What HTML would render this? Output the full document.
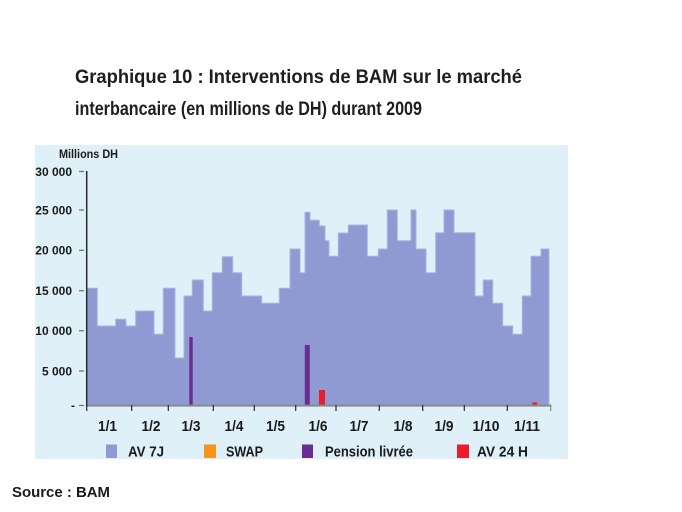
<!DOCTYPE html>
<html>
<head>
<meta charset="utf-8">
<style>
html,body{margin:0;padding:0;background:#fff;}
svg{display:block;}
text{font-family:"Liberation Sans",sans-serif;}
</style>
</head>
<body>
<svg width="682" height="512" viewBox="0 0 682 512" xmlns="http://www.w3.org/2000/svg">
<rect x="0" y="0" width="682" height="512" fill="#ffffff"/>

<!-- Title -->
<text x="75" y="83" font-size="19.5" font-weight="bold" fill="#1e1e1e" textLength="447" lengthAdjust="spacingAndGlyphs">Graphique 10 : Interventions de BAM sur le marché</text>
<text x="75" y="115" font-size="19.5" font-weight="bold" fill="#1e1e1e" textLength="347" lengthAdjust="spacingAndGlyphs">interbancaire (en millions de DH) durant 2009</text>

<!-- Panel -->
<rect x="35" y="145" width="533" height="314" fill="#dff0f8"/>

<!-- Millions DH -->
<text x="59" y="158" font-size="11.5" font-weight="bold" fill="#1a1a1a" textLength="59" lengthAdjust="spacingAndGlyphs">Millions DH</text>

<!-- Y labels -->
<g font-size="12" font-weight="bold" fill="#1a1a1a" text-anchor="end">
<text x="72" y="176">30 000</text>
<text x="72" y="214.5">25 000</text>
<text x="72" y="254.5">20 000</text>
<text x="72" y="295">15 000</text>
<text x="72" y="335">10 000</text>
<text x="72" y="375.5">5 000</text>
<text x="75" y="409.5">-</text>
</g>
<!-- Y tick dashes -->
<g stroke="#777" stroke-width="1.3">
<line x1="79" y1="171.5" x2="84" y2="171.5"/>
<line x1="79" y1="210" x2="84" y2="210"/>
<line x1="79" y1="250.3" x2="84" y2="250.3"/>
<line x1="79" y1="290.7" x2="84" y2="290.7"/>
<line x1="79" y1="330.7" x2="84" y2="330.7"/>
<line x1="79" y1="371" x2="84" y2="371"/>
<line x1="79" y1="405.5" x2="84" y2="405.5"/>
</g>

<!-- AV 7J step area -->
<path fill="#8f9ad3" stroke="#a9b3e0" stroke-width="1" d="M86.7,405.5 V288.3 H97.3 V326 H115.7 V319.3 H126 V326 H135.7 V311 H154 V334.3 H163.3 V288.3 H175 V358 H184 V296 H192.3 V280 H203.3 V311 H212.3 V272.7 H222.3 V256.7 H232.7 V272.7 H241.7 V296 H261.7 V303.3 H279.3 V288.3 H290 V249 H300 V272.7 H305 V212.3 H310 V220.3 H319.3 V226 H325 V240.7 H329 V256.3 H338.3 V233 H348.3 V225 H367.3 V256.3 H378.3 V249 H387.3 V210 H397.3 V240.7 H411 V210 H416 V249 H426 V272.7 H435.7 V232.7 H444 V210 H454 V232.7 H475 V296 H483.3 V280 H492.7 V303.3 H502.7 V326 H512.7 V334.3 H522.3 V296 H531 V256.3 H541 V249 H549 V405.5 Z"/>

<!-- Pension livrée bars -->
<rect x="189.3" y="337" width="3.4" height="68.5" fill="#6a2c91"/>
<rect x="304.8" y="345" width="5" height="60.5" fill="#6a2c91"/>
<!-- AV 24H bars -->
<rect x="319" y="390" width="6" height="15.5" fill="#ec1c2a"/>
<rect x="532.3" y="402.5" width="5" height="3" fill="#ec1c2a"/>

<!-- Axes -->
<line x1="86.7" y1="405.6" x2="551.5" y2="405.6" stroke="#8a8a8a" stroke-width="2"/>
<line x1="86.7" y1="171" x2="86.7" y2="406.5" stroke="#2a2a2a" stroke-width="1.5"/>
<g stroke="#2a2a2a" stroke-width="1.2">
<line x1="86.7" y1="405" x2="86.7" y2="411"/>
<line x1="131.7" y1="405" x2="131.7" y2="411"/>
<line x1="168.3" y1="405" x2="168.3" y2="411"/>
<line x1="213.3" y1="405" x2="213.3" y2="411"/>
<line x1="254.3" y1="405" x2="254.3" y2="411"/>
<line x1="295.7" y1="405" x2="295.7" y2="411"/>
<line x1="336" y1="405" x2="336" y2="411"/>
<line x1="379.3" y1="405" x2="379.3" y2="411"/>
<line x1="422.7" y1="405" x2="422.7" y2="411"/>
<line x1="464.3" y1="405" x2="464.3" y2="411"/>
<line x1="507.3" y1="405" x2="507.3" y2="411"/>
<line x1="550.7" y1="405" x2="550.7" y2="411" stroke="#8a8a8a"/>
</g>

<!-- X labels -->
<g font-size="15" font-weight="bold" fill="#1a1a1a" text-anchor="middle">
<text x="107.5" y="431" textLength="19" lengthAdjust="spacingAndGlyphs">1/1</text>
<text x="151" y="431" textLength="19" lengthAdjust="spacingAndGlyphs">1/2</text>
<text x="191" y="431" textLength="19" lengthAdjust="spacingAndGlyphs">1/3</text>
<text x="234" y="431" textLength="19" lengthAdjust="spacingAndGlyphs">1/4</text>
<text x="275.5" y="431" textLength="19" lengthAdjust="spacingAndGlyphs">1/5</text>
<text x="318" y="431" textLength="19" lengthAdjust="spacingAndGlyphs">1/6</text>
<text x="359" y="431" textLength="19" lengthAdjust="spacingAndGlyphs">1/7</text>
<text x="403" y="431" textLength="19" lengthAdjust="spacingAndGlyphs">1/8</text>
<text x="444" y="431" textLength="19" lengthAdjust="spacingAndGlyphs">1/9</text>
<text x="486" y="431" textLength="27" lengthAdjust="spacingAndGlyphs">1/10</text>
<text x="527" y="431" textLength="26" lengthAdjust="spacingAndGlyphs">1/11</text>
</g>

<!-- Legend -->
<rect x="106" y="444.5" width="11" height="13.5" fill="#8f9ad3"/>
<rect x="204" y="444.5" width="12" height="13.5" fill="#f7941d"/>
<rect x="302" y="444.5" width="11" height="13.5" fill="#6a2c91"/>
<rect x="457" y="444.5" width="12" height="13.5" fill="#ec1c2a"/>
<g font-size="15" font-weight="bold" fill="#1a1a1a">
<text x="128" y="456.5" textLength="36" lengthAdjust="spacingAndGlyphs">AV 7J</text>
<text x="226" y="456.5" textLength="37" lengthAdjust="spacingAndGlyphs">SWAP</text>
<text x="325" y="456.5" textLength="88" lengthAdjust="spacingAndGlyphs">Pension livrée</text>
<text x="477" y="456.5" textLength="51" lengthAdjust="spacingAndGlyphs">AV 24 H</text>
</g>

<!-- Source -->
<text x="12" y="497" font-size="15" font-weight="bold" fill="#1a1a1a" textLength="98" lengthAdjust="spacingAndGlyphs">Source : BAM</text>
</svg>
</body>
</html>
